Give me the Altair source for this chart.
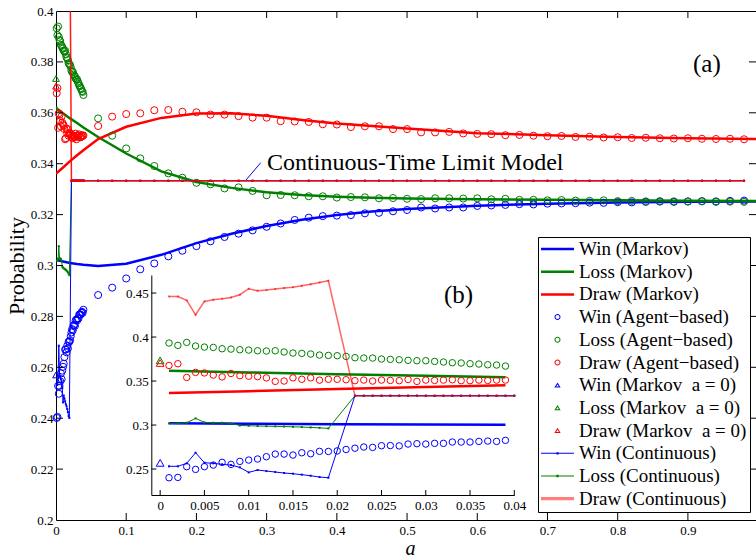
import altair as alt
import pandas as pd

FONT = "Liberation Serif"
BLUE, GREEN, RED = "#0000ff", "#008000", "#ff0000"

# ---------------- Markov-chain solution (solid curves) ----------------
markov_a = [0.0, 0.001, 0.01, 0.02, 0.03, 0.039, 0.06, 0.1, 0.15, 0.2, 0.25, 0.3,
            0.35, 0.4, 0.45, 0.5, 0.6, 0.7, 0.8, 0.9, 1.0]
markov_win = [0.3022, 0.3021, 0.3016, 0.3010, 0.3006, 0.3003, 0.2998, 0.3007, 0.3042,
              0.3088, 0.3125, 0.3155, 0.3180, 0.3198, 0.3212, 0.3222, 0.3235, 0.3243,
              0.3248, 0.3250, 0.3252]
markov_loss = [0.3624, 0.3617, 0.3598, 0.3578, 0.3560, 0.3542, 0.3505, 0.3440, 0.3370,
               0.3328, 0.3305, 0.3288, 0.3277, 0.3270, 0.3266, 0.3263, 0.3260, 0.3258,
               0.3256, 0.3254, 0.3253]
markov_draw = [0.3364, 0.3363, 0.3385, 0.3410, 0.3433, 0.3453, 0.3497, 0.3545, 0.3580,
               0.3597, 0.3598, 0.3588, 0.3572, 0.3558, 0.3548, 0.3538, 0.3520, 0.3512,
               0.3505, 0.3500, 0.3497]

# ---------------- agent-based simulation (open circles) ----------------
agent_a_fine = [round(0.001 * k, 3) for k in range(1, 40)]
agent_win_fine = [0.2401, 0.2405, 0.2527, 0.2496, 0.2527, 0.2545, 0.2576, 0.2553, 0.2587, 0.2602,
                  0.2614, 0.2640, 0.2670, 0.2670, 0.2659, 0.2685, 0.2674, 0.2701, 0.2700, 0.2706,
                  0.2722, 0.2737, 0.2750, 0.2746, 0.2765, 0.2767, 0.2763, 0.2784, 0.2788, 0.2784,
                  0.2792, 0.2792, 0.2807, 0.2807, 0.2807, 0.2814, 0.2818, 0.2814, 0.2826]
agent_loss_fine = [0.3932, 0.3905, 0.3939, 0.3898, 0.3886, 0.3882, 0.3867, 0.3863, 0.3856, 0.3852,
                   0.3844, 0.3841, 0.3844, 0.3830, 0.3818, 0.3814, 0.3807, 0.3795, 0.3791, 0.3788,
                   0.3780, 0.3765, 0.3761, 0.3761, 0.3750, 0.3746, 0.3742, 0.3735, 0.3731, 0.3731,
                   0.3723, 0.3716, 0.3708, 0.3705, 0.3697, 0.3693, 0.3685, 0.3682, 0.3670]
agent_draw_fine = [0.3677, 0.3697, 0.3541, 0.3598, 0.3592, 0.3568, 0.3547, 0.3586, 0.3561, 0.3555,
                   0.3550, 0.3536, 0.3496, 0.3500, 0.3536, 0.3520, 0.3536, 0.3510, 0.3520, 0.3520,
                   0.3515, 0.3504, 0.3511, 0.3500, 0.3511, 0.3507, 0.3504, 0.3518, 0.3496, 0.3511,
                   0.3507, 0.3511, 0.3515, 0.3504, 0.3504, 0.3511, 0.3507, 0.3511, 0.3511]

agent_a_coarse = [round(0.06 + 0.02 * k, 2) for k in range(47)]
agent_win_coarse = [0.2884, 0.2913, 0.2949, 0.2985, 0.3008, 0.3036, 0.3058, 0.3076, 0.3095, 0.3112,
                    0.3125, 0.3138, 0.3152, 0.3165, 0.3179, 0.3188, 0.3194, 0.3196, 0.3198, 0.3205,
                    0.3207, 0.3213, 0.3218, 0.3228, 0.3224, 0.3228, 0.3228, 0.3234, 0.3236, 0.3238,
                    0.3241, 0.3240, 0.3243, 0.3244, 0.3245, 0.3247, 0.3246, 0.3249, 0.3248, 0.3250,
                    0.3251, 0.3250, 0.3252, 0.3253, 0.3252, 0.3254, 0.3255]
agent_loss_coarse = [0.3578, 0.3510, 0.3460, 0.3421, 0.3391, 0.3362, 0.3345, 0.3325, 0.3319, 0.3303,
                     0.3307, 0.3293, 0.3276, 0.3277, 0.3276, 0.3272, 0.3272, 0.3267, 0.3269, 0.3268,
                     0.3264, 0.3265, 0.3262, 0.3261, 0.3264, 0.3264, 0.3263, 0.3264, 0.3260, 0.3262,
                     0.3258, 0.3258, 0.3256, 0.3257, 0.3255, 0.3254, 0.3256, 0.3253, 0.3254, 0.3252,
                     0.3253, 0.3252, 0.3251, 0.3252, 0.3250, 0.3251, 0.3250]
agent_draw_coarse = [0.3548, 0.3585, 0.3595, 0.3598, 0.3610, 0.3611, 0.3604, 0.3602, 0.3593, 0.3593,
                     0.3587, 0.3581, 0.3581, 0.3567, 0.3566, 0.3564, 0.3555, 0.3554, 0.3544, 0.3547,
                     0.3547, 0.3536, 0.3536, 0.3523, 0.3523, 0.3525, 0.3519, 0.3517, 0.3516, 0.3512,
                     0.3513, 0.3510, 0.3508, 0.3509, 0.3505, 0.3506, 0.3503, 0.3504, 0.3501, 0.3502,
                     0.3500, 0.3499, 0.3500, 0.3498, 0.3497, 0.3498, 0.3496]

# ---------------- Markov chain with a = 0 (triangles) ----------------
zero_a = [0.0]
zero_win = [0.2570]
zero_loss = [0.3735]
zero_draw = [0.3705]

# ---------------- continuous-time model (thin lines with dots) ----------------
cont_a_early = [round(0.001 * k, 3) for k in range(1, 20)]
cont_win_early = [0.2531, 0.2531, 0.2565, 0.2685, 0.2572, 0.2565, 0.2553, 0.2545, 0.2519, 0.2462,
                  0.2489, 0.2477, 0.2466, 0.2455, 0.2447, 0.2436, 0.2424, 0.2409, 0.2401]
cont_loss_early = [0.3019, 0.3019, 0.3026, 0.3076, 0.3030, 0.3026, 0.3026, 0.3019, 0.2995, 0.2992,
                   0.2989, 0.2987, 0.2985, 0.2983, 0.2980, 0.2977, 0.2973, 0.2968, 0.2962]
cont_draw_early = [0.4461, 0.4461, 0.4416, 0.4253, 0.4405, 0.4424, 0.4435, 0.4450, 0.4481, 0.4549,
                   0.4526, 0.4534, 0.4545, 0.4556, 0.4567, 0.4582, 0.4599, 0.4620, 0.4640]
cont_a_late = [round(0.001 * k, 3) for k in range(22, 41)] + agent_a_coarse
CONT_LIMIT = 0.3333  # all three outcomes sit on the continuous-time limit

# ---------------- annotations ----------------
pointer_a = [0.2707, 0.2916]
pointer_p = [0.3336, 0.3404]
limit_label = {"a": 0.3006, "p": 0.3404, "text": "Continuous-Time Limit Model"}
panel_a = {"a": 0.927, "p": 0.3792, "text": "(a)"}
panel_b = {"a": 0.0337, "p": 0.4481, "text": "(b)"}

# ---------------- axis ticks ----------------
main_xticks = [0.0, 0.1, 0.2, 0.3, 0.4, 0.5, 0.6, 0.7, 0.8, 0.9]
main_yticks = [0.2, 0.22, 0.24, 0.26, 0.28, 0.3, 0.32, 0.34, 0.36, 0.38, 0.4]
inset_xticks = [0.0, 0.005, 0.01, 0.015, 0.02, 0.025, 0.03, 0.035, 0.04]
inset_yticks = [0.25, 0.3, 0.35, 0.4, 0.45]

# ---------------- legend ----------------
legend_labels = [
    "Win (Markov)", "Loss (Markov)", "Draw (Markov)",
    "Win (Agent\u2212based)", "Loss (Agent\u2212based)", "Draw (Agent\u2212based)",
    "Win (Markov\u00a0 a = 0)", "Loss (Markov\u00a0 a = 0)", "Draw (Markov\u00a0 a = 0)",
    "Win (Continuous)", "Loss (Continuous)", "Draw (Continuous)",
]
legend_colors = [BLUE, GREEN, RED, BLUE, GREEN, RED, BLUE, GREEN, RED,
                 BLUE, GREEN, "rgba(255,0,0,0.5)"]
# swatch outlines in symbol units (symbol spans -1..1)
SW_THICK = "M-1,-0.076H1V0.076H-1Z"
SW_RING = ("M0.182,0A0.182,0.182,0,1,1,-0.182,0A0.182,0.182,0,1,1,0.182,0Z"
           "M0.121,0A0.121,0.121,0,1,0,-0.121,0A0.121,0.121,0,1,0,0.121,0Z")
SW_TRI = "M0,-0.17L-0.19,0.14L0.19,0.14Z M0,-0.05L0.08,0.08L-0.08,0.08Z"
SW_THIN = "M-1,-0.03H1V0.03H-1Z M-0.07,-0.07H0.07V0.07H-0.07Z"
SW_WIDE = "M-1,-0.1H1V0.1H-1Z"
legend_shapes = [SW_THICK] * 3 + [SW_RING] * 3 + [SW_TRI] * 3 + [SW_THIN, SW_THIN, SW_WIDE]

# ---------------- scales and axes ----------------
MX = alt.Scale(domain=[0, 0.997], nice=False, zero=False)
MY = alt.Scale(domain=[0.2, 0.4], nice=False, zero=False)
IX = alt.Scale(domain=[-0.001, 0.04], range=[95.3, 458.3], nice=False, zero=False)
IY = alt.Scale(domain=[0.2205, 0.4705], range=[484, 264], nice=False, zero=False)

label_style = dict(labelFont=FONT, labelFontSize=13, labelColor="black",
                   labelFlush=False, labelOverlap=False, grid=False, ticks=False)
MXA = alt.Axis(values=main_xticks, format="~g", domain=False, labelPadding=4,
               title="a", titleFont=FONT, titleFontSize=20, titleFontStyle="italic",
               titleFontWeight="normal", titleColor="black", titleX=354, titleY=28,
               titleBaseline="middle", **label_style)
MYA = alt.Axis(values=main_yticks, format="~g", domain=False, labelPadding=3,
               title="Probability", titleFont=FONT, titleFontSize=22,
               titleFontWeight="normal", titleColor="black", titleX=-40, titleY=254.5,
               titleAngle=270, titleBaseline="middle", **label_style)
IXA = alt.Axis(orient="bottom", offset=-25, values=inset_xticks, format="~g",
               domain=True, domainColor="black", domainWidth=1, labelPadding=4,
               title=None, **label_style)
IYA = alt.Axis(orient="left", offset=-95.3, values=inset_yticks, format="~g",
               domain=True, domainColor="black", domainWidth=1, labelPadding=3,
               title=None, **label_style)

mx = alt.X("a:Q", scale=MX, axis=MXA)
my = alt.Y("p:Q", scale=MY, axis=MYA)
ix = alt.X("a:Q", scale=IX, axis=IXA)
iy = alt.Y("p:Q", scale=IY, axis=IYA)


def frame(a, p):
    return pd.DataFrame({"a": a, "p": p})


def curve(df, color, width, x, y, opacity=1.0):
    return alt.Chart(df).mark_line(color=color, strokeWidth=width, opacity=opacity,
                                   clip=True).encode(x=x, y=y)


def markers(df, color, shape, size, x, y, filled=False, opacity=1.0, clip=False):
    return alt.Chart(df).mark_point(shape=shape, size=size, filled=filled, color=color,
                                    strokeWidth=1, opacity=opacity,
                                    clip=clip).encode(x=x, y=y)


def label(item, size, x, y, align="center"):
    return alt.Chart(pd.DataFrame([item])).mark_text(
        font=FONT, fontSize=size, color="black", align=align, baseline="middle"
    ).encode(x=x, y=y, text="text:N")


def ticks(values, base, vertical, length, shift, x, y, clip=False):
    if vertical:
        df = pd.DataFrame({"a": values, "p": [base] * len(values)})
        mark = alt.Chart(df).mark_tick(orient="vertical", size=length, thickness=1,
                                       color="black", opacity=1, yOffset=shift, clip=clip)
    else:
        df = pd.DataFrame({"a": [base] * len(values), "p": values})
        mark = alt.Chart(df).mark_tick(orient="horizontal", size=length, thickness=1,
                                       color="black", opacity=1, xOffset=shift, clip=clip)
    return mark.encode(x=x, y=y)


def continuous_layers(x, y, a_max, clip_dots, draw_opacity):
    out = []
    for early, color, width, op in [(cont_loss_early, GREEN, 1, 1.0),
                                    (cont_win_early, BLUE, 1, 1.0),
                                    (cont_draw_early, RED, 1.5, draw_opacity)]:
        a = cont_a_early + [v for v in cont_a_late if v <= a_max]
        p = early + [CONT_LIMIT] * (len(a) - len(early))
        df = frame(a, p)
        out.append(curve(df, color, width, x, y, opacity=op))
        out.append(markers(df, color, "square", 4, x, y, filled=True, opacity=op, clip=clip_dots))
    return out


# ---------------- main panel (a) ----------------
all_a = agent_a_fine + agent_a_coarse
main_layers = [
    curve(frame(markov_a, markov_win), BLUE, 2.5, mx, my),
    curve(frame(markov_a, markov_loss), GREEN, 2.5, mx, my),
    curve(frame(markov_a, markov_draw), RED, 2.5, mx, my),
    markers(frame(all_a, agent_win_fine + agent_win_coarse), BLUE, "circle", 50, mx, my),
    markers(frame(all_a, agent_loss_fine + agent_loss_coarse), GREEN, "circle", 50, mx, my),
    markers(frame(all_a, agent_draw_fine + agent_draw_coarse), RED, "circle", 50, mx, my),
    markers(frame(zero_a, zero_win), BLUE, "triangle-up", 45, mx, my),
    markers(frame(zero_a, zero_loss), GREEN, "triangle-up", 45, mx, my),
    markers(frame(zero_a, zero_draw), RED, "triangle-up", 45, mx, my),
]
main_layers += continuous_layers(mx, my, 1.0, True, 0.9)
main_layers += [
    curve(frame(pointer_a, pointer_p), BLUE, 1, mx, my),
    label(limit_label, 24, mx, my, align="left"),
    label(panel_a, 25, mx, my),
    # inward ticks on all four sides of the frame (outer half is clipped)
    ticks(main_xticks[1:], 0.2, True, 14, 0, mx, my, clip=True),
    ticks(main_xticks[1:], 0.4, True, 14, 0, mx, my, clip=True),
    ticks(main_yticks[1:-1], 0.0, False, 14, 0, mx, my, clip=True),
    ticks(main_yticks[1:-1], 0.997, False, 14, 0, mx, my, clip=True),
]

legend_df = pd.DataFrame({"series": legend_labels, "a": [-1.0] * len(legend_labels),
                          "p": [0.3] * len(legend_labels)})
legend_layer = alt.Chart(legend_df).mark_point(filled=True, opacity=1, clip=True).encode(
    x=mx, y=my,
    color=alt.Color("series:N", scale=alt.Scale(domain=legend_labels, range=legend_colors),
                    legend=alt.Legend(title=None)),
    shape=alt.Shape("series:N", scale=alt.Scale(domain=legend_labels, range=legend_shapes),
                    legend=alt.Legend(title=None)),
)
main_layers.append(legend_layer)

# ---------------- inset panel (b) ----------------
idx = [i for i, a in enumerate(markov_a) if 0.001 <= a <= 0.039]
ma_in = [markov_a[i] for i in idx]
inset_layers = [
    curve(frame(ma_in, [markov_win[i] for i in idx]), BLUE, 2.5, ix, iy),
    curve(frame(ma_in, [markov_loss[i] for i in idx]), GREEN, 2.5, ix, iy),
    curve(frame(ma_in, [markov_draw[i] for i in idx]), RED, 2.5, ix, iy),
    markers(frame(agent_a_fine, agent_win_fine), BLUE, "circle", 42, ix, iy),
    markers(frame(agent_a_fine, agent_loss_fine), GREEN, "circle", 42, ix, iy),
    markers(frame(agent_a_fine, agent_draw_fine), RED, "circle", 42, ix, iy),
    markers(frame(zero_a, zero_win), BLUE, "triangle-up", 60, ix, iy),
    markers(frame(zero_a, zero_loss), GREEN, "triangle-up", 60, ix, iy),
    markers(frame(zero_a, zero_draw), RED, "triangle-up", 60, ix, iy),
]
inset_layers += continuous_layers(ix, iy, 0.04, False, 0.6)
inset_layers += [
    label(panel_b, 25, ix, iy),
    ticks(inset_xticks, 0.2205, True, 5, -2.5, ix, iy),
    ticks(inset_yticks, -0.001, False, 5, 2.5, ix, iy),
]

main = alt.layer(*main_layers)
inset = alt.layer(*inset_layers)

chart = alt.layer(main, inset).resolve_scale(
    x="independent", y="independent"
).properties(
    width=700, height=509,
    padding={"left": 56, "top": 11, "right": 0, "bottom": 38},
    autosize=alt.AutoSizeParams(type="none"),
).configure_view(
    stroke="black", strokeWidth=1
).configure_legend(
    orient="none", legendX=482, legendY=226, direction="vertical",
    fillColor="white", strokeColor="black", padding=3, rowPadding=3.7,
    labelOffset=5, labelFont=FONT, labelFontSize=19, labelColor="black",
    labelLimit=400, symbolSize=1089, symbolStrokeWidth=0, clipHeight=18,
)

chart.save("out.html", embed_options={"renderer": "svg", "actions": False})
